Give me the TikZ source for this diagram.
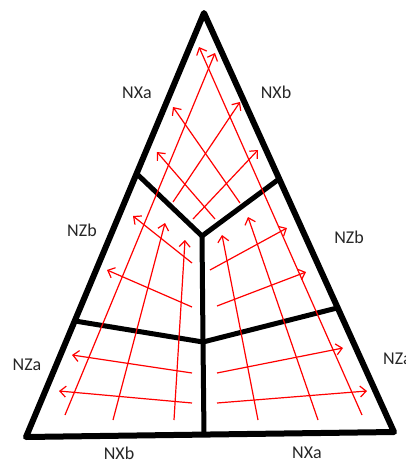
\documentclass[tikz,border=0pt]{standalone}
\usepackage{fontspec}
\setmainfont{Carlito}
\usetikzlibrary{arrows.meta}
\definecolor{flowred}{HTML}{FF0000}
\definecolor{labelgray}{HTML}{262626}

\begin{document}
\begin{tikzpicture}[x=1pt, y=-1pt,
    edge/.style={line width=6pt, line join=round, line cap=round},
    divider/.style={line width=5pt, line join=round},
    flow/.style={flowred, line width=1.2pt, -{Straight Barb[length=6pt, width=11pt]}},
    lab/.style={font=\fontsize{18}{21}\selectfont, text=labelgray, anchor=base, inner sep=0pt}]
    \useasboundingbox (0,0) rectangle (406,463);

    % 1. Outer triangle
    \coordinate (apex) at (204,13);
    \coordinate (bl) at (26,437);
    \coordinate (br) at (394,432);
    \draw[edge] (apex) -- (br) -- (bl) -- cycle;

    % 2. Dividers
    \coordinate (ul) at (137,174);
    \coordinate (ur) at (279,179);
    \coordinate (ll) at (75,321);
    \coordinate (lr) at (337,308);
    \coordinate (mid) at (202,236);
    \coordinate (low) at (203,342);
    \coordinate (foot) at (204,435);
    \draw[divider] (ul) -- (mid) -- (ur);
    \draw[divider] (ll) -- (low) -- (lr);
    \draw[divider] (mid) -- (low) -- (foot);

    % 3. Flow arrows, top cell
    \draw[flow] (173,202) -- (240,102);
    \draw[flow] (193,219) -- (258,150);
    \draw[flow] (215,219) -- (157,152);
    \draw[flow] (240,203) -- (173,107);
    \draw[flow] (65,415) -- (215,53);
    \draw[flow] (362,415) -- (199,47);

    % 4. Flow arrows, rising from the base
    \draw[flow] (113,420) -- (165,223);
    \draw[flow] (174,420) -- (185,240);
    \draw[flow] (258,420) -- (222,235);
    \draw[flow] (318,420) -- (248,217);

    % 5. Flow arrows, side cells
    \draw[flow] (192,263) -- (133,216);
    \draw[flow] (192,307) -- (107,270);
    \draw[flow] (210,270) -- (287,228);
    \draw[flow] (217,306) -- (306,272);
    \draw[flow] (192,373) -- (72,355);
    \draw[flow] (192,403) -- (59,391);
    \draw[flow] (217,373) -- (343,348);
    \draw[flow] (217,403) -- (367,391);

    % 6. Labels
    \node[lab] (nxa-top) at (137,98) {NXa};
    \node[lab] (nxb-top) at (276,98) {NXb};
    \node[lab] (nzb-left) at (82,236) {NZb};
    \node[lab] (nzb-right) at (349,243) {NZb};
    \node[lab] (nza-left) at (27,370) {NZa};
    \node[lab, anchor=base west] (nza-right) at (383,364) {NZa};
    \node[lab] (nxb-bottom) at (119,459) {NXb};
    \node[lab] (nxa-bottom) at (307,458) {NXa};
\end{tikzpicture}
\end{document}
